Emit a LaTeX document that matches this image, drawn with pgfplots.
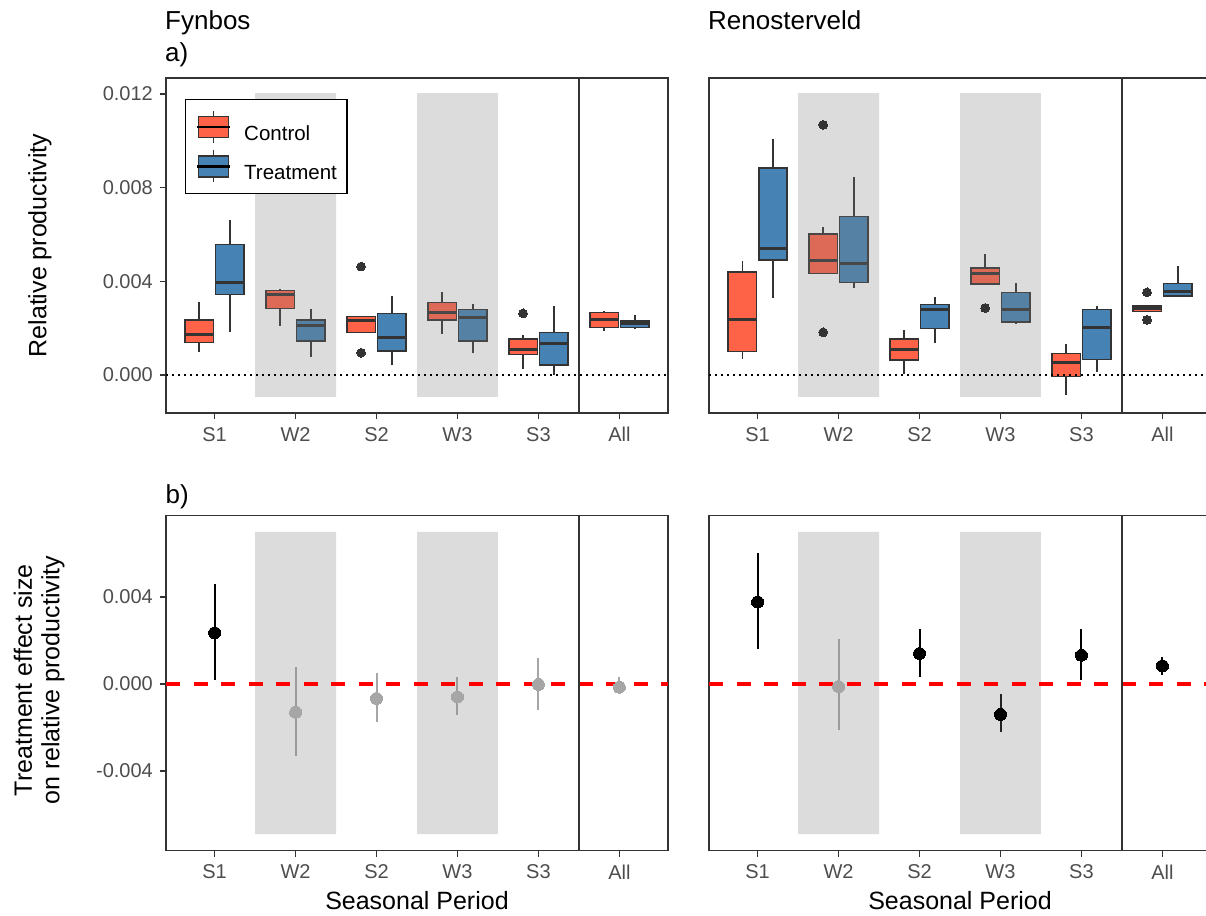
\documentclass[border=0pt]{standalone}
\usepackage{fontspec}
\setmainfont{Liberation Sans}
\usepackage{pgfplots}
\usepackage{pgfplotstable}
\pgfplotsset{compat=1.18}
\usepgfplotslibrary{statistics}
\definecolor{tomato}{RGB}{255,99,71}
\definecolor{steelblue}{RGB}{70,130,180}
\definecolor{gtwenty}{RGB}{51,51,51}
\definecolor{gthirty}{RGB}{77,77,77}
\definecolor{ptgray}{RGB}{166,166,166}
\definecolor{shadecol}{RGB}{127,127,127}

% all y values are in units of 0.001 (tick labels show the original values)
\pgfplotsset{
 panel/.style={scale only axis, width=502pt, height=335pt, xmin=0.4, xmax=6.6,
   axis line style={draw=gtwenty, line width=1.4pt},
   tick align=outside, major tick length=6pt,
   major tick style={draw=gtwenty, line width=1.4pt},
   xtick={1,2,3,4,5,6}, xticklabels={S1,W2,S2,W3,S3,All},
   xtick pos=bottom, ytick pos=left,
   xticklabel style={font=\fontsize{20}{24}\selectfont, text=gthirty, inner sep=0pt, anchor=north, yshift=-8pt},
   yticklabel style={font=\fontsize{20}{24}\selectfont, text=gthirty, inner sep=0pt, anchor=east, xshift=-7pt},
   scaled y ticks=false,
   xlabel style={font=\fontsize{25}{30}\selectfont, text=black, inner sep=0pt, anchor=base, at={(axis description cs:0.5,-0.174)}},
 },
 toprow/.style={panel, ymin=-1.622, ymax=12.679},
 botrow/.style={panel, ymin=-7.67, ymax=7.74},
 bxC/.style={draw=gtwenty, line width=1.4pt, fill=tomato, mark=*, mark size=4.4pt,
   mark options={fill=gtwenty, draw=gtwenty, line width=0pt},
   boxplot/draw direction=y,
   boxplot/box extend=0.35, boxplot/whisker extend=0,
   boxplot/every median/.style={line width=3pt}},
 bxT/.style={bxC, fill=steelblue},
 shaderect/.style={draw=none, fill=shadecol, fill opacity=0.27},
 zeroline/.style={black, line width=1.8pt, dash pattern=on 1.8pt off 4.2pt},
 redline/.style={red, line width=3.3pt, dash pattern=on 14pt off 13.5pt},
 sepline/.style={gtwenty, line width=1.6pt},
 ptblack/.style={only marks, mark=*, mark size=6pt, mark options={draw=black, fill=black, line width=0pt},
   error bars/.cd, y dir=both, y explicit, error mark=none, error bar style={line width=2pt, black}},
 ptgrey/.style={only marks, mark=*, mark size=6pt, mark options={draw=ptgray, fill=ptgray, line width=0pt},
   error bars/.cd, y dir=both, y explicit, error mark=none, error bar style={line width=2pt, ptgray}},
}

% effect sizes (x 0.001): x, estimate, lower, upper
\pgfplotstableread{
x y lo hi
1 2.35 0.18 4.60
}\fynblack
\pgfplotstableread{
x y lo hi
2 -1.30 -3.33 0.80
3 -0.67 -1.73 0.49
4 -0.60 -1.41 0.34
5 -0.02 -1.18 1.20
6 -0.15 -0.46 0.34
}\fyngrey
\pgfplotstableread{
x y lo hi
1 3.77 1.59 6.02
3 1.40 0.32 2.53
4 -1.40 -2.22 -0.48
5 1.32 0.17 2.53
6 0.83 0.41 1.26
}\renblack
\pgfplotstableread{
x y lo hi
2 -0.12 -2.13 2.05
}\rengrey

\begin{document}
\begin{tikzpicture}

% ---------------- a) Fynbos ----------------
\begin{axis}[toprow, at={(166pt,-78pt)}, anchor=north west,
  ytick={0,4,8,12}, yticklabels={0.000,0.004,0.008,0.012},
  ylabel={Relative productivity},
  ylabel style={font=\fontsize{25}{30}\selectfont, inner sep=0pt, anchor=north, at={(axis description cs:-0.2749,0.5)}},
  legend style={at={(axis description cs:0.03785,0.9373)}, anchor=north west, draw=black, line width=1.4pt, fill=white,
    inner xsep=10pt, inner ysep=10.6pt, row sep=6pt, font=\fontsize{20.5}{24}\selectfont,
    nodes={inner sep=0pt, text=black}, /tikz/every odd column/.append style={column sep=13pt}},
  legend cell align=left]
\addlegendimage{legend image code/.code={
  \draw[gtwenty, line width=1.4pt] (15pt,-9pt) -- (15pt,23pt);
  \draw[draw=gtwenty, fill=tomato, line width=1.4pt] (0pt,-3.5pt) rectangle (30pt,17.5pt);
  \draw[black, line width=2.5pt] (-1.5pt,7pt) -- (31.5pt,7pt);}}
\addlegendentry{Control}
\addlegendimage{legend image code/.code={
  \draw[gtwenty, line width=1.4pt] (15pt,-9pt) -- (15pt,23pt);
  \draw[draw=gtwenty, fill=steelblue, line width=1.4pt] (0pt,-3.5pt) rectangle (30pt,17.5pt);
  \draw[black, line width=2.5pt] (-1.5pt,7pt) -- (31.5pt,7pt);}}
\addlegendentry{Treatment}

\addplot[bxC, boxplot prepared={draw position=0.81, lower whisker=1.00, lower quartile=1.38, median=1.71, upper quartile=2.35, upper whisker=3.10}] coordinates {};
\addplot[bxT, boxplot prepared={draw position=1.19, lower whisker=1.82, lower quartile=3.44, median=3.94, upper quartile=5.58, upper whisker=6.62}] coordinates {};
\addplot[bxC, boxplot prepared={draw position=1.81, lower whisker=2.09, lower quartile=2.85, median=3.42, upper quartile=3.60, upper whisker=3.67}] coordinates {};
\addplot[bxT, boxplot prepared={draw position=2.19, lower whisker=0.78, lower quartile=1.45, median=2.11, upper quartile=2.35, upper whisker=2.80}] coordinates {};
\addplot[bxC, boxplot prepared={draw position=2.81, lower whisker=1.82, lower quartile=1.82, median=2.32, upper quartile=2.49, upper whisker=2.49}] table[row sep=\\, y index=0] {y\\ 4.63\\ 0.95\\};
\addplot[bxT, boxplot prepared={draw position=3.19, lower whisker=0.41, lower quartile=1.02, median=1.59, upper quartile=2.63, upper whisker=3.39}] coordinates {};
\addplot[bxC, boxplot prepared={draw position=3.81, lower whisker=1.74, lower quartile=2.35, median=2.68, upper quartile=3.09, upper whisker=3.54}] coordinates {};
\addplot[bxT, boxplot prepared={draw position=4.19, lower whisker=0.93, lower quartile=1.45, median=2.46, upper quartile=2.80, upper whisker=3.03}] coordinates {};
\addplot[bxC, boxplot prepared={draw position=4.81, lower whisker=0.27, lower quartile=0.87, median=1.10, upper quartile=1.54, upper whisker=1.69}] table[row sep=\\, y index=0] {y\\ 2.63\\};
\addplot[bxT, boxplot prepared={draw position=5.19, lower whisker=0.00, lower quartile=0.43, median=1.35, upper quartile=1.82, upper whisker=2.96}] coordinates {};
\addplot[bxC, boxplot prepared={draw position=5.81, lower whisker=1.89, lower quartile=2.04, median=2.35, upper quartile=2.66, upper whisker=2.73}] coordinates {};
\addplot[bxT, boxplot prepared={draw position=6.19, lower whisker=1.98, lower quartile=2.04, median=2.18, upper quartile=2.31, upper whisker=2.58}] coordinates {};

\addplot[shaderect] coordinates {(1.5,-0.93) (2.5,-0.93) (2.5,12.03) (1.5,12.03) (1.5,-0.93)};
\addplot[shaderect] coordinates {(3.5,-0.93) (4.5,-0.93) (4.5,12.03) (3.5,12.03) (3.5,-0.93)};
\addplot[zeroline] coordinates {(0.4,0) (6.6,0)};
\addplot[sepline] coordinates {(5.5,-2) (5.5,13)};
\end{axis}

% ---------------- a) Renosterveld ----------------
\begin{axis}[toprow, at={(709pt,-78pt)}, anchor=north west, ytick=\empty]
\addplot[bxC, boxplot prepared={draw position=0.81, lower whisker=0.70, lower quartile=1.01, median=2.39, upper quartile=4.40, upper whisker=4.87}] coordinates {};
\addplot[bxT, boxplot prepared={draw position=1.19, lower whisker=3.27, lower quartile=4.91, median=5.41, upper quartile=8.83, upper whisker=10.09}] coordinates {};
\addplot[bxC, boxplot prepared={draw position=1.81, lower whisker=4.34, lower quartile=4.34, median=4.88, upper quartile=6.02, upper whisker=6.33}] table[row sep=\\, y index=0] {y\\ 10.68\\ 1.82\\};
\addplot[bxT, boxplot prepared={draw position=2.19, lower whisker=3.72, lower quartile=3.96, median=4.75, upper quartile=6.76, upper whisker=8.47}] coordinates {};
\addplot[bxC, boxplot prepared={draw position=2.81, lower whisker=0.04, lower quartile=0.64, median=1.08, upper quartile=1.54, upper whisker=1.92}] coordinates {};
\addplot[bxT, boxplot prepared={draw position=3.19, lower whisker=1.35, lower quartile=1.98, median=2.78, upper quartile=3.02, upper whisker=3.32}] coordinates {};
\addplot[bxC, boxplot prepared={draw position=3.81, lower whisker=3.89, lower quartile=3.89, median=4.34, upper quartile=4.56, upper whisker=5.17}] table[row sep=\\, y index=0] {y\\ 2.86\\};
\addplot[bxT, boxplot prepared={draw position=4.19, lower whisker=2.16, lower quartile=2.26, median=2.78, upper quartile=3.53, upper whisker=3.91}] coordinates {};
\addplot[bxC, boxplot prepared={draw position=4.81, lower whisker=-0.84, lower quartile=-0.07, median=0.54, upper quartile=0.93, upper whisker=1.32}] coordinates {};
\addplot[bxT, boxplot prepared={draw position=5.19, lower whisker=0.13, lower quartile=0.67, median=2.02, upper quartile=2.79, upper whisker=2.95}] coordinates {};
\addplot[bxC, boxplot prepared={draw position=5.81, lower whisker=2.70, lower quartile=2.70, median=2.83, upper quartile=2.95, upper whisker=2.95}] table[row sep=\\, y index=0] {y\\ 3.53\\ 2.35\\};
\addplot[bxT, boxplot prepared={draw position=6.19, lower whisker=3.37, lower quartile=3.37, median=3.56, upper quartile=3.90, upper whisker=4.65}] coordinates {};

\addplot[shaderect] coordinates {(1.5,-0.93) (2.5,-0.93) (2.5,12.03) (1.5,12.03) (1.5,-0.93)};
\addplot[shaderect] coordinates {(3.5,-0.93) (4.5,-0.93) (4.5,12.03) (3.5,12.03) (3.5,-0.93)};
\addplot[zeroline] coordinates {(0.4,0) (6.6,0)};
\addplot[sepline] coordinates {(5.5,-2) (5.5,13)};
\end{axis}

% ---------------- b) Fynbos ----------------
\begin{axis}[botrow, at={(166pt,-515.7pt)}, anchor=north west,
  ytick={-4,0,4}, yticklabels={-0.004,0.000,0.004},
  xlabel={Seasonal Period},
  ylabel={Treatment effect size\\on relative productivity},
  ylabel style={font=\fontsize{25}{27.5}\selectfont, align=center, inner sep=0pt, anchor=north, at={(axis description cs:-0.3038,0.509)}}]
\addplot[ptblack] table[x=x, y=y, y error plus expr=\thisrow{hi}-\thisrow{y}, y error minus expr=\thisrow{y}-\thisrow{lo}] {\fynblack};
\addplot[ptgrey] table[x=x, y=y, y error plus expr=\thisrow{hi}-\thisrow{y}, y error minus expr=\thisrow{y}-\thisrow{lo}] {\fyngrey};
\addplot[shaderect] coordinates {(1.5,-6.91) (2.5,-6.91) (2.5,7.00) (1.5,7.00) (1.5,-6.91)};
\addplot[shaderect] coordinates {(3.5,-6.91) (4.5,-6.91) (4.5,7.00) (3.5,7.00) (3.5,-6.91)};
\addplot[redline] coordinates {(0.4,0) (6.6,0)};
\addplot[sepline] coordinates {(5.5,-8) (5.5,8)};
\end{axis}

% ---------------- b) Renosterveld ----------------
\begin{axis}[botrow, at={(709pt,-515.7pt)}, anchor=north west, ytick=\empty,
  xlabel={Seasonal Period}]
\addplot[ptblack] table[x=x, y=y, y error plus expr=\thisrow{hi}-\thisrow{y}, y error minus expr=\thisrow{y}-\thisrow{lo}] {\renblack};
\addplot[ptgrey] table[x=x, y=y, y error plus expr=\thisrow{hi}-\thisrow{y}, y error minus expr=\thisrow{y}-\thisrow{lo}] {\rengrey};
\addplot[shaderect] coordinates {(1.5,-6.91) (2.5,-6.91) (2.5,7.00) (1.5,7.00) (1.5,-6.91)};
\addplot[shaderect] coordinates {(3.5,-6.91) (4.5,-6.91) (4.5,7.00) (3.5,7.00) (3.5,-6.91)};
\addplot[redline] coordinates {(0.4,0) (6.6,0)};
\addplot[sepline] coordinates {(5.5,-8) (5.5,8)};
\end{axis}

% panel titles
\node[anchor=base west, inner sep=0pt, font=\fontsize{26}{31}\selectfont] at (165pt,-30pt) {Fynbos};
\node[anchor=base west, inner sep=0pt, font=\fontsize{26}{31}\selectfont] at (165pt,-61.7pt) {a)};
\node[anchor=base west, inner sep=0pt, font=\fontsize{26}{31}\selectfont] at (708pt,-30pt) {Renosterveld};
\node[anchor=base west, inner sep=0pt, font=\fontsize{26}{31}\selectfont] at (165.5pt,-503.3pt) {b)};

\pgfresetboundingbox
\path[use as bounding box] (0pt,0pt) rectangle (1206pt,-915pt);
\end{tikzpicture}
\end{document}
